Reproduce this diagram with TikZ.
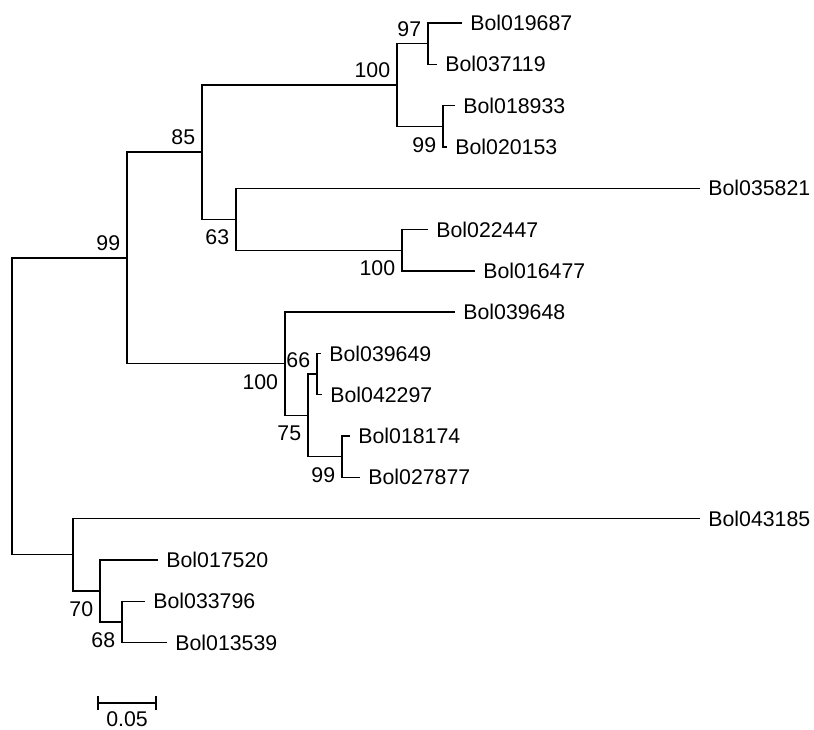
\documentclass[tikz,border=0pt]{standalone}
\usepackage{fontspec}
\setmainfont{Liberation Sans}
\usetikzlibrary{positioning}
\tikzset{branch/.style = {line width = 0.7pt}}
\tikzset{tip/.style = {anchor = west, inner sep = 0}}
\tikzset{bup/.style = {anchor = south east, inner sep = 0, xshift = -3.25pt, yshift = 3.25pt}}
\tikzset{bdn/.style = {anchor = north east, inner sep = 0, xshift = -3.25pt, yshift = -5.25pt}}

\begin{document}
\begin{tikzpicture}[x = 0.5pt, y = -0.5pt, font = \fontsize{10.65}{12.8}\selectfont]
      \useasboundingbox (0, 0) rectangle (814, 729);

      % leaf tips
      \coordinate (l1) at (462, 23.0);
      \coordinate (l2) at (437, 64.3);
      \coordinate (l3) at (455, 105.6);
      \coordinate (l4) at (447, 146.9);
      \coordinate (l5) at (700, 188.2);
      \coordinate (l6) at (428, 229.5);
      \coordinate (l7) at (475, 270.8);
      \coordinate (l8) at (455, 312.1);
      \coordinate (l9) at (321, 353.4);
      \coordinate (l10) at (322, 394.7);
      \coordinate (l11) at (350, 436.0);
      \coordinate (l12) at (360, 477.3);
      \coordinate (l13) at (700, 518.6);
      \coordinate (l14) at (158, 559.9);
      \coordinate (l15) at (145, 601.2);
      \coordinate (l16) at (167, 642.5);

      % inner nodes
      \coordinate (D) at (428, 43.7);
      \coordinate (E) at (443, 126.3);
      \coordinate (C) at (397, 85.0);
      \coordinate (G) at (402, 250.2);
      \coordinate (F) at (236, 219.2);
      \coordinate (B) at (202, 152.1);
      \coordinate (J) at (317, 374.1);
      \coordinate (K) at (342, 456.7);
      \coordinate (I) at (308, 415.4);
      \coordinate (H) at (285, 363.7);
      \coordinate (A) at (127, 257.9);
      \coordinate (N) at (122, 621.9);
      \coordinate (M) at (100, 590.9);
      \coordinate (L) at (73, 554.7);
      \coordinate (R) at (12, 406.3);

      \draw [branch] (l1) -| (D) |- (l2);
      \draw [branch] (l3) -| (E) |- (l4);
      \draw [branch] (D) -| (C) |- (E);
      \draw [branch] (l6) -| (G) |- (l7);
      \draw [branch] (l5) -| (F) |- (G);
      \draw [branch] (C) -| (B) |- (F);
      \draw [branch] (l9) -| (J) |- (l10);
      \draw [branch] (l11) -| (K) |- (l12);
      \draw [branch] (J) -| (I) |- (K);
      \draw [branch] (l8) -| (H) |- (I);
      \draw [branch] (B) -| (A) |- (H);
      \draw [branch] (l15) -| (N) |- (l16);
      \draw [branch] (l14) -| (M) |- (N);
      \draw [branch] (l13) -| (L) |- (M);
      \draw [branch] (A) -| (R) |- (L);

      % leaf names
      \node (t1) [tip, right = 4pt of l1] {Bol019687};
      \node (t2) [tip, right = 4pt of l2] {Bol037119};
      \node (t3) [tip, right = 4pt of l3] {Bol018933};
      \node (t4) [tip, right = 4pt of l4] {Bol020153};
      \node (t5) [tip, right = 4pt of l5] {Bol035821};
      \node (t6) [tip, right = 4pt of l6] {Bol022447};
      \node (t7) [tip, right = 4pt of l7] {Bol016477};
      \node (t8) [tip, right = 4pt of l8] {Bol039648};
      \node (t9) [tip, right = 4pt of l9] {Bol039649};
      \node (t10) [tip, right = 4pt of l10] {Bol042297};
      \node (t11) [tip, right = 4pt of l11] {Bol018174};
      \node (t12) [tip, right = 4pt of l12] {Bol027877};
      \node (t13) [tip, right = 4pt of l13] {Bol043185};
      \node (t14) [tip, right = 4pt of l14] {Bol017520};
      \node (t15) [tip, right = 4pt of l15] {Bol033796};
      \node (t16) [tip, right = 4pt of l16] {Bol013539};

      % bootstrap values
      \node (bD) [bup] at (D) {97};
      \node (bC) [bup] at (C) {100};
      \node (bE) [bdn] at (E) {99};
      \node (bB) [bup] at (B) {85};
      \node (bA) [bup] at (A) {99};
      \node (bF) [bdn] at (F) {63};
      \node (bG) [bdn] at (G) {100};
      \node (bJ) [bup] at (J) {66};
      \node (bH) [bdn] at (H) {100};
      \node (bI) [bdn] at (I) {75};
      \node (bK) [bdn] at (K) {99};
      \node (bM) [bdn] at (M) {70};
      \node (bN) [bdn] at (N) {68};

      % scale bar
      \coordinate (s1) at (98, 703);
      \coordinate (s2) at (156, 703);
      \draw [branch] (s1) -- (s2);
      \draw [branch] ([yshift = 3.5pt] s1) -- ([yshift = -3.5pt] s1);
      \draw [branch] ([yshift = 3.5pt] s2) -- ([yshift = -3.5pt] s2);
      \node (sl) [inner sep = 0] at (127, 719) {0.05};
    \end{tikzpicture}
\end{document}
